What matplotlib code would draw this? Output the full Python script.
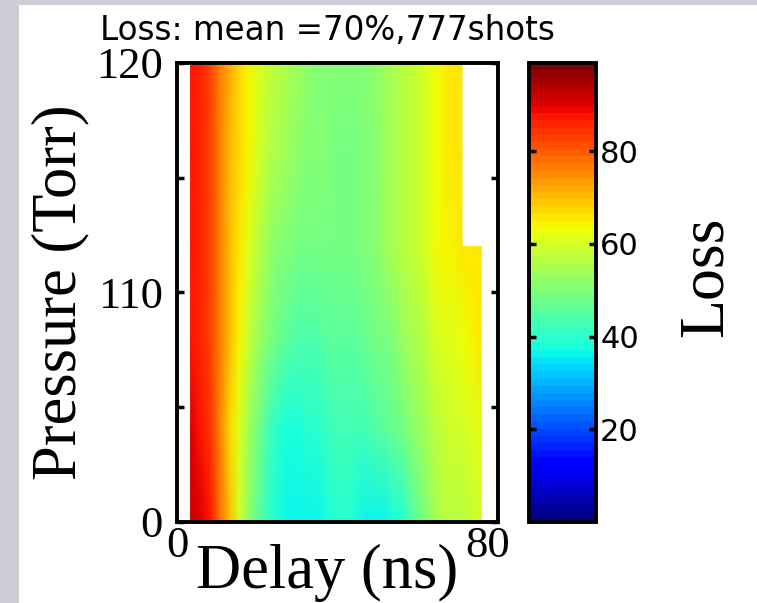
import numpy as np
import matplotlib
matplotlib.use("Agg")
import matplotlib.pyplot as plt
from matplotlib.patches import Rectangle

# delay grid (ns) and pressure rows (Torr)
delay = [3.5, 6.0, 8.5, 11.0, 13.5, 16.0, 18.5, 21.0, 23.5, 26.0, 28.5,
         31.0, 33.5, 36.0, 38.5, 41.0, 43.5, 46.0, 48.5, 51.0, 53.5,
         56.0, 58.5, 61.0, 63.5, 66.0, 68.5, 71.0, 73.5, 76.0, 78.5]
pressure_low = [100, 104, 108, 112]
pressure_high = [112, 116, 120]

# loss (%), one list per pressure row
loss_100 = [92, 90, 87, 78, 70, 60, 52, 46, 41, 38, 37, 37, 37, 37, 38, 40,
            39, 38, 37, 37, 37, 38, 40, 45, 49, 54, 56, 57, 57, 58, 60]
loss_104 = [90, 88, 84, 76, 67, 61, 54, 48, 43, 40, 38, 38, 39, 40, 41, 42,
            42, 42, 43, 44, 45, 47, 49, 52, 54, 56, 58, 59, 60, 61, 61]
loss_108 = [88, 86, 83, 77, 70, 64, 58, 54, 50, 47, 45, 44, 44, 44, 45, 45,
            46, 46, 47, 48, 49, 51, 53, 55, 57, 59, 61, 61, 62, 64, 65]
loss_112 = [87, 86, 82, 76, 71, 66, 61, 57, 54, 51, 50, 49, 48, 48, 48, 48,
            48, 49, 50, 51, 53, 55, 56, 58, 60, 62, 64, 64, 65, 66, 66]
loss_116 = [87, 86, 83, 76, 71, 68, 64, 60, 57, 55, 53, 52, 51, 50, 50, 49,
            49, 49, 50, 51, 53, 55, 56, 58, 60, 63, 64, 65, 65]
loss_120 = [87, 86, 82, 76, 72, 68, 64, 61, 58, 56, 55, 54, 52, 51, 50, 50,
            50, 50, 51, 52, 54, 55, 57, 58, 60, 63, 64, 65, 65]

title = "Loss: mean =70%,777shots"
cbar_ticks = [20, 40, 60, 80]

fig = plt.figure(figsize=(7.57, 6.03), dpi=100)
fig.patch.set_facecolor("#cecdd5")
fig.patches.append(Rectangle((19 / 757, 0), 1, 1 - 5 / 603, transform=fig.transFigure,
                             facecolor="white", edgecolor="none", zorder=-1))

cmap = plt.get_cmap("jet", 64)
ax = fig.add_axes([177 / 757, 1 - 522 / 603, 321 / 757, 459 / 603])

low = np.array([loss_100, loss_104, loss_108, loss_112], dtype=float)
high = np.array([loss_112[:len(loss_116)], loss_116, loss_120], dtype=float)
X1, Y1 = np.meshgrid(delay, pressure_low)
X2, Y2 = np.meshgrid(delay[:len(loss_116)], pressure_high)
mesh = ax.pcolormesh(X1, Y1, low, shading="gouraud", cmap=cmap, vmin=0, vmax=99)
ax.pcolormesh(X2, Y2, high, shading="gouraud", cmap=cmap, vmin=0, vmax=99)

ax.set_xlim(0, 82.8)
ax.set_ylim(100, 120)
ax.set_xticks([0, 80])
ax.set_xticklabels(["0", "80"])
ax.set_yticks([100, 105, 110, 115, 120])
ax.set_yticklabels(["0", "", "110", "", "120"])
for s in ax.spines.values():
    s.set_linewidth(2.8)
ax.tick_params(axis="x", length=0, pad=3, labelsize=32)
ax.tick_params(axis="y", direction="in", length=5, width=2.5, right=True,
               pad=10, labelsize=32)
for lab in ax.get_xticklabels() + ax.get_yticklabels():
    lab.set_family("Liberation Serif")

fig.text(60 / 757, 1 - 292 / 603, "Pressure (Torr)", rotation=90, ha="center",
         va="center", fontsize=45, family="Liberation Serif")
fig.text(327 / 757, 1 - 573 / 603, "Delay (ns)", ha="center", va="center",
         fontsize=45, family="Liberation Serif")
fig.text(100 / 757, 1 - 31 / 603, title, ha="left", va="center",
         fontsize=23.5, family="DejaVu Sans")

cax = fig.add_axes([529 / 757, 1 - 522 / 603, 67 / 757, 459 / 603])
cb = fig.colorbar(mesh, cax=cax)
cb.set_ticks(cbar_ticks)
cb.outline.set_linewidth(2.8)
cax.tick_params(direction="in", length=5, width=2.5, left=True, right=True,
                labelsize=22, pad=3)
fig.text(707 / 757, 1 - 277 / 603, "Loss", rotation=90, ha="center", va="center",
         fontsize=46, family="Liberation Serif")

fig.savefig("out.png", dpi=100, facecolor=fig.get_facecolor())
